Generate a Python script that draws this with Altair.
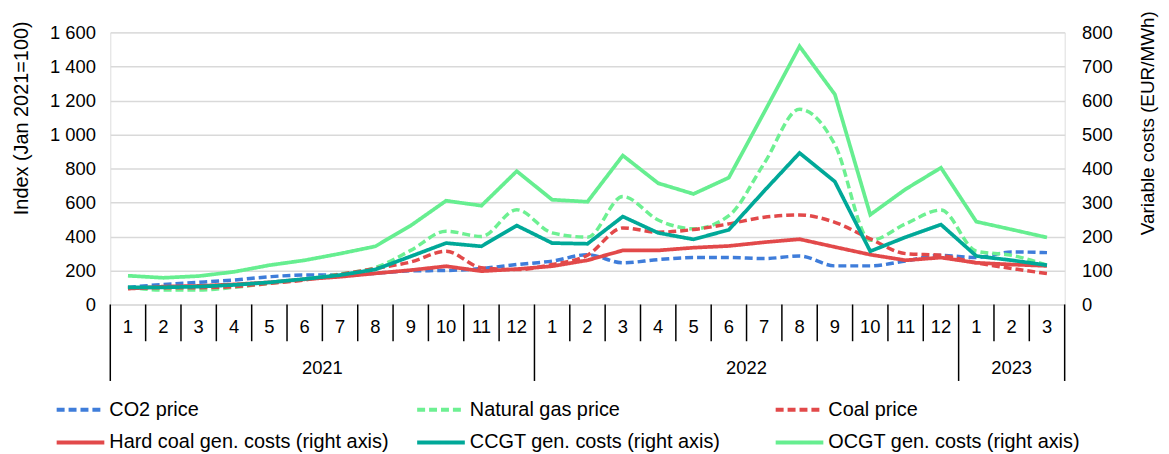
import altair as alt
import pandas as pd

# ---- data ----
month_labels = ["1","2","3","4","5","6","7","8","9","10","11","12",
                "1","2","3","4","5","6","7","8","9","10","11","12",
                "1","2","3"]
year_labels = ["2021", "2022", "2023"]
year_lengths = [12, 12, 3]

# Index (Jan 2021 = 100), left axis
co2_price = [101, 118, 130, 144, 163, 173, 173, 183, 198, 200, 212, 235,
             255, 293, 245, 264, 276, 276, 270, 285, 227, 227, 256, 289,
             276, 309, 305]
gas_price = [101, 85, 85, 101, 124, 148, 179, 217, 318, 431, 400, 557,
             421, 396, 635, 497, 445, 522, 830, 1148, 940, 377, 474, 555,
             313, 289, 231]
coal_price = [95, 99, 99, 105, 124, 144, 177, 212, 250, 313, 216, 205,
              235, 290, 450, 425, 441, 474, 513, 526, 483, 386, 299, 289,
              245, 212, 182]

# EUR/MWh, right axis
hard_coal_costs = [46.5, 52.5, 54.5, 59, 65, 74, 81.5, 91.5, 101, 112.5, 98, 104,
                   112.5, 130, 159, 159, 167, 172, 183, 192, 169, 146.5, 130, 138,
                   122.5, 117.5, 113.5]
ccgt_costs = [50.5, 50.5, 52.5, 57.5, 65, 75, 86.5, 103, 141.5, 180.5, 171, 232,
              180.5, 178.5, 258.5, 210.5, 191.5, 219.5, 334, 445.5, 361, 156.5, 198, 235,
              142.5, 130, 115.5]
ocgt_costs = [84.5, 78.5, 83.5, 96, 115.5, 130, 149.5, 171, 232, 305, 290.5, 392,
              308, 302, 438, 356.5, 325, 373, 565, 759, 617.5, 264, 339, 402,
              243.5, 220.5, 197]

left_series = {"CO2 price": co2_price,
               "Natural gas price": gas_price,
               "Coal price": coal_price}
right_series = {"Hard coal gen. costs (right axis)": hard_coal_costs,
                "CCGT gen. costs (right axis)": ccgt_costs,
                "OCGT gen. costs (right axis)": ocgt_costs}

order = list(left_series) + list(right_series)
colors = ["#3F7DDA", "#6DF092", "#E2494A", "#E2494A", "#00A898", "#66EE90"]
dashes = [[8, 4], [8, 4], [8, 4], [1, 0], [1, 0], [1, 0]]

n = len(month_labels)

def long(d):
    rows = []
    for name, vals in d.items():
        for i, v in enumerate(vals):
            rows.append({"series": name, "pos": i + 0.5, "value": v})
    return pd.DataFrame(rows)

df_left = long(left_series)
df_right = long(right_series)

df_months = pd.DataFrame({"pos": [i + 0.5 for i in range(n)], "label": month_labels})

year_starts = [0]
for L in year_lengths:
    year_starts.append(year_starts[-1] + L)
df_bounds = pd.DataFrame({"b": list(range(n + 1)),
                          "kind": ["year" if b in year_starts else "month" for b in range(n + 1)]})
df_years = pd.DataFrame({"year": year_labels,
                         "center": [(year_starts[i] + year_starts[i + 1]) / 2
                                    for i in range(len(year_labels))]})

# legend layout (pixel offsets relative to the plot area)
LEG_COL_X = [-54, 309, 670]
LEG_ROW_Y = [380, 413]
SYM_LEN = 48
leg_rows = []
for k, name in enumerate(order):
    c, r = k % 3, k // 3
    leg_rows.append({"series": name, "x0": LEG_COL_X[c], "x1": LEG_COL_X[c] + SYM_LEN,
                     "tx": LEG_COL_X[c] + SYM_LEN + 5, "ly": LEG_ROW_Y[r]})
df_leg = pd.DataFrame(leg_rows)

FONT = "Liberation Sans"
FS = 18.5
FS_LEG = 20
FS_TITLE = 20
FS_TITLE_R = 19
W, H = 961, 274

xscale = alt.Scale(domain=[0, n], nice=False, zero=False)
color = alt.Color("series:N", scale=alt.Scale(domain=order, range=colors), legend=None)
dash = alt.StrokeDash("series:N", scale=alt.Scale(domain=order, range=dashes), legend=None)

left = alt.Chart(df_left).mark_line(strokeWidth=3.5, interpolate="monotone").encode(
    x=alt.X("pos:Q", scale=xscale,
            axis=alt.Axis(labels=False, ticks=False, grid=False, domain=True,
                          domainColor="#000000", domainWidth=1.5, title=None)),
    y=alt.Y("value:Q", scale=alt.Scale(domain=[0, 1600], nice=False),
            axis=alt.Axis(values=list(range(0, 1601, 200)),
                          labelExpr="replace(format(datum.value, ','), ',', ' ')",
                          grid=True, gridColor="#D9D9D9", gridWidth=1.5, domain=False,
                          ticks=False, labelFontSize=FS, labelFont=FONT, labelColor="#000000",
                          labelPadding=15, title="Index (Jan 2021=100)", titleFont=FONT,
                          titleFontSize=FS_TITLE, titleFontWeight="normal", titleColor="#000000",
                          titleAngle=270, titleX=-89, titleY=86, titleBaseline="middle")),
    color=color,
    strokeDash=dash,
    order=alt.Order("pos:Q"),
)

right = alt.Chart(df_right).mark_line(strokeWidth=3.75).encode(
    x=alt.X("pos:Q", scale=xscale, axis=None),
    y=alt.Y("value:Q", scale=alt.Scale(domain=[0, 800], nice=False),
            axis=alt.Axis(orient="right", values=list(range(0, 801, 100)), grid=False,
                          domain=False, ticks=False, labelFontSize=FS, labelFont=FONT,
                          labelColor="#000000", labelPadding=17,
                          title="Variable costs (EUR/MWh)", titleFont=FONT,
                          titleFontSize=FS_TITLE_R, titleFontWeight="normal",
                          titleColor="#000000", titleAngle=270,
                          titleX=83, titleY=91, titleBaseline="middle")),
    color=color,
    strokeDash=dash,
    order=alt.Order("pos:Q"),
)

month_sep = alt.Chart(df_bounds).transform_filter("datum.kind == 'month'").mark_rule(
    color="#000000", strokeWidth=1.5).encode(
    x=alt.X("b:Q", scale=xscale, axis=None),
    y=alt.value(H), y2=alt.value(H + 37))

year_sep = alt.Chart(df_bounds).transform_filter("datum.kind == 'year'").mark_rule(
    color="#000000", strokeWidth=1.5).encode(
    x=alt.X("b:Q", scale=xscale, axis=None),
    y=alt.value(H), y2=alt.value(H + 77))

month_text = alt.Chart(df_months).mark_text(fontSize=FS, font=FONT, color="#000000",
                                            baseline="middle").encode(
    x=alt.X("pos:Q", scale=xscale, axis=None),
    y=alt.value(H + 23),
    text="label:N")

year_text = alt.Chart(df_years).mark_text(fontSize=FS, font=FONT, color="#000000",
                                          baseline="middle").encode(
    x=alt.X("center:Q", scale=xscale, axis=None),
    y=alt.value(H + 64),
    text="year:N")

leg_sym = alt.Chart(df_leg).mark_rule(strokeWidth=4).encode(
    x=alt.X("x0:Q", scale=None, axis=None), x2="x1:Q",
    y=alt.Y("ly:Q", scale=None, axis=None),
    color=color, strokeDash=dash)

leg_text = alt.Chart(df_leg).mark_text(fontSize=FS_LEG, font=FONT, color="#000000",
                                       align="left", baseline="middle").encode(
    x=alt.X("tx:Q", scale=None, axis=None),
    y=alt.Y("ly:Q", scale=None, axis=None),
    text="series:N")

chart = alt.layer(left, right, month_sep, year_sep, month_text, year_text,
                  leg_sym, leg_text).resolve_scale(
    y="independent").properties(
    width=W, height=H,
    autosize=alt.AutoSizeParams(type="none"),
    padding={"left": 103, "top": 23, "right": 97, "bottom": 149},
).configure_view(stroke=None).configure(background="#FFFFFF")

chart.save("out.html", embed_options={"renderer": "svg", "actions": False})
